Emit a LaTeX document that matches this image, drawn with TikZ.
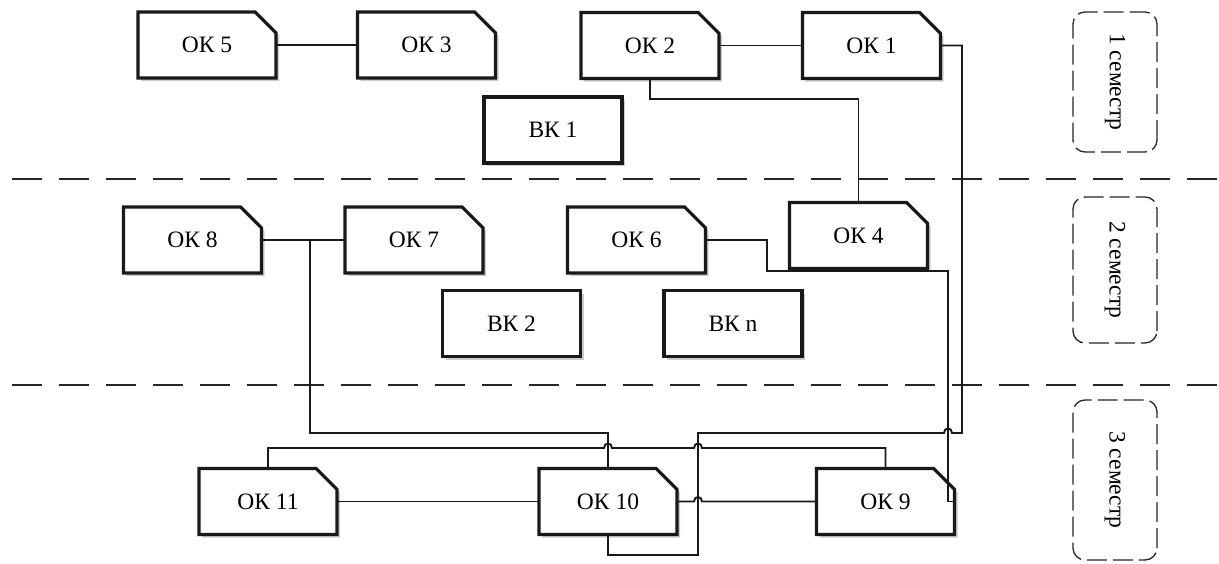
\documentclass[tikz,border=0pt]{standalone}
\usepackage{fontspec}
\setmainfont{Liberation Serif}
\usetikzlibrary{shapes.misc,shadows,calc}
\begin{document}
\begin{tikzpicture}[x=1pt,y=-1pt,
  boxbase/.style={draw=black!90, line width=3.2pt, fill=white,
    minimum width=138pt, minimum height=66pt, inner sep=0pt, outer sep=0pt,
    font=\fontsize{23.5}{28}\selectfont,
    drop shadow={shadow xshift=3pt, shadow yshift=-3pt, fill=black, opacity=0.2}},
  okb/.style={boxbase, chamfered rectangle, chamfered rectangle corners=north east,
    chamfered rectangle xsep=13pt, chamfered rectangle ysep=13pt},
  vkb/.style={boxbase, rectangle},
  conn/.style={draw=black!90, line width=1.9pt},
  sepline/.style={draw=black!85, line width=2pt, dash pattern=on 30pt off 17pt},
  sembox/.style={draw=black!85, line width=1.3pt, dash pattern=on 20pt off 6pt,
    rounded corners=12pt, rotate=-90, minimum height=84pt, inner sep=0pt,
    font=\fontsize{23.5}{28}\selectfont}
]
\useasboundingbox (0,0) rectangle (1219,563);
\fill[white] (0,0) rectangle (1219,563);

% separators
\draw[sepline] (12,179) -- (1219,179);
\draw[sepline] (12,385) -- (1219,385);

% semester labels
\node[sembox, minimum width=140pt] (s1) at (1115,82) {1 семестр};
\node[sembox, minimum width=146pt] (s2) at (1115,270) {2 семестр};
\node[sembox, minimum width=160pt] (s3) at (1115,480) {3 семестр};

% boxes
\node[okb] (ok5) at (207,45) {ОК 5};
\node[okb] (ok3) at (426.5,45) {ОК 3};
\node[okb] (ok2) at (650,45.5) {ОК 2};
\node[okb] (ok1) at (871.5,45.5) {ОК 1};
\node[vkb] (vk1) at (553,130) {ВК 1};
\node[okb] (ok8) at (192.5,240) {ОК 8};
\node[okb] (ok7) at (414,240) {ОК 7};
\node[okb] (ok6) at (636.5,240) {ОК 6};
\node[okb] (ok4) at (858.5,235.5) {ОК 4};
\node[vkb] (vk2) at (511.5,323.5) {ВК 2};
\node[vkb] (vkn) at (733,323.5) {ВК n};
\node[okb] (ok11) at (268,501.5) {ОК 11};
\node[okb] (ok10) at (608,501.5) {ОК 10};
\node[okb] (ok9) at (885.5,501.5) {ОК 9};

% waypoints
\coordinate (j87) at (310,240);
\coordinate (a1) at (962,433);
\coordinate (a2) at (698,555);
\coordinate (b1) at (310,433);
\coordinate (c1) at (767,271);
\coordinate (c2) at (948,501.5);
\coordinate (d1) at (885.5,448);

% connectors
\draw[conn] (ok5.east) -- (ok3.west);
\draw[conn] (ok2.east) -- (ok1.west);
\draw[conn] (ok2.south) -- ++(0,20.5) -| (ok4.north);
\draw[conn] (ok1.east) -| (a1) -- (952,433)
  .. controls (952,427) and (944,427) .. (944,433) -- (698,433) -- (a2) -| (ok10.south);
\draw[conn] (ok8.east) -- (ok7.west);
\draw[conn] (j87) -- (b1) -| (ok10.north);
\draw[conn] (ok6.east) -| (c1) -| (c2) -- (ok9.east);
\draw[conn] (ok9.north) -- (d1) -- (702,448)
  .. controls (702,442) and (694,442) .. (694,448) -- (612,448)
  .. controls (612,442) and (604,442) .. (604,448) -| (ok11.north);
\draw[conn] (ok11.east) -- (ok10.west);
\draw[conn] (ok10.east) -- (694,501.5)
  .. controls (694,495.5) and (702,495.5) .. (702,501.5) -- (ok9.west);
\end{tikzpicture}
\end{document}
